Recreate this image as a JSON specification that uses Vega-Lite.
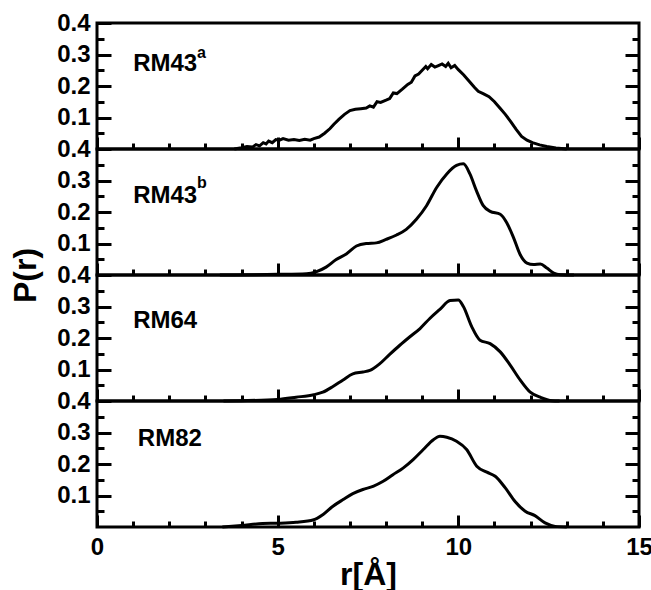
{
  "$schema": "https://vega.github.io/schema/vega-lite/v6.json",
  "padding": {"left": 8, "top": 9, "right": 5, "bottom": 5},
  "spacing": 0,
  "bounds": "flush",
  "config": {
    "view": {"stroke": "black", "strokeWidth": 3},
    "axis": {"zindex": 1, "labelFlush": false, "domain": false, "grid": false, "ticks": true, "tickColor": "black", "tickWidth": 3, "labelFont": "Liberation Sans", "labelFontWeight": "bold", "labelFontSize": 24, "labelColor": "black", "titleFont": "Liberation Sans", "titleFontWeight": "bold", "titleFontSize": 32, "titleColor": "black"}
  },
  "datasets": {
    "rm43a": [
      {"r": 3.8, "P": 0}, {"r": 4.0, "P": 0.004}, {"r": 4.15, "P": 0.008}, {"r": 4.3, "P": 0.006}, {"r": 4.4, "P": 0.014}, {"r": 4.5, "P": 0.01}, {"r": 4.6, "P": 0.02}, {"r": 4.68, "P": 0.016}, {"r": 4.75, "P": 0.025}, {"r": 4.85, "P": 0.02}, {"r": 4.95, "P": 0.03}, {"r": 5.05, "P": 0.028}, {"r": 5.15, "P": 0.033}, {"r": 5.3, "P": 0.028}, {"r": 5.45, "P": 0.03}, {"r": 5.6, "P": 0.027}, {"r": 5.75, "P": 0.031}, {"r": 5.9, "P": 0.028}, {"r": 6.0, "P": 0.033}, {"r": 6.15, "P": 0.038}, {"r": 6.3, "P": 0.05}, {"r": 6.45, "P": 0.065}, {"r": 6.55, "P": 0.078}, {"r": 6.7, "P": 0.095}, {"r": 6.85, "P": 0.11}, {"r": 7.0, "P": 0.122}, {"r": 7.15, "P": 0.126}, {"r": 7.3, "P": 0.128}, {"r": 7.45, "P": 0.13}, {"r": 7.55, "P": 0.137}, {"r": 7.65, "P": 0.133}, {"r": 7.75, "P": 0.15}, {"r": 7.85, "P": 0.148}, {"r": 8.0, "P": 0.155}, {"r": 8.1, "P": 0.16}, {"r": 8.2, "P": 0.178}, {"r": 8.3, "P": 0.176}, {"r": 8.45, "P": 0.19}, {"r": 8.6, "P": 0.205}, {"r": 8.7, "P": 0.212}, {"r": 8.8, "P": 0.232}, {"r": 8.9, "P": 0.238}, {"r": 9.0, "P": 0.25}, {"r": 9.1, "P": 0.262}, {"r": 9.15, "P": 0.255}, {"r": 9.25, "P": 0.268}, {"r": 9.35, "P": 0.26}, {"r": 9.45, "P": 0.265}, {"r": 9.55, "P": 0.27}, {"r": 9.65, "P": 0.262}, {"r": 9.72, "P": 0.272}, {"r": 9.8, "P": 0.258}, {"r": 9.9, "P": 0.265}, {"r": 10.0, "P": 0.252}, {"r": 10.15, "P": 0.235}, {"r": 10.3, "P": 0.215}, {"r": 10.45, "P": 0.195}, {"r": 10.55, "P": 0.183}, {"r": 10.7, "P": 0.175}, {"r": 10.85, "P": 0.166}, {"r": 11.0, "P": 0.15}, {"r": 11.15, "P": 0.13}, {"r": 11.3, "P": 0.11}, {"r": 11.45, "P": 0.087}, {"r": 11.6, "P": 0.062}, {"r": 11.75, "P": 0.04}, {"r": 11.9, "P": 0.028}, {"r": 12.05, "P": 0.02}, {"r": 12.25, "P": 0.013}, {"r": 12.45, "P": 0.008}, {"r": 12.7, "P": 0.003}, {"r": 13.0, "P": 0}
    ],
    "rm43b": [
      {"r": 3.4, "P": 0}, {"r": 4.4, "P": 0.001}, {"r": 5.0, "P": 0.002}, {"r": 5.8, "P": 0.004}, {"r": 6.06, "P": 0.01}, {"r": 6.34, "P": 0.025}, {"r": 6.62, "P": 0.049}, {"r": 6.9, "P": 0.067}, {"r": 7.18, "P": 0.092}, {"r": 7.45, "P": 0.1}, {"r": 7.73, "P": 0.102}, {"r": 8.0, "P": 0.113}, {"r": 8.29, "P": 0.127}, {"r": 8.56, "P": 0.145}, {"r": 8.84, "P": 0.177}, {"r": 9.12, "P": 0.22}, {"r": 9.4, "P": 0.278}, {"r": 9.68, "P": 0.321}, {"r": 9.95, "P": 0.348}, {"r": 10.14, "P": 0.353}, {"r": 10.32, "P": 0.321}, {"r": 10.5, "P": 0.268}, {"r": 10.69, "P": 0.22}, {"r": 10.88, "P": 0.202}, {"r": 11.16, "P": 0.193}, {"r": 11.34, "P": 0.166}, {"r": 11.53, "P": 0.118}, {"r": 11.71, "P": 0.065}, {"r": 11.9, "P": 0.038}, {"r": 12.08, "P": 0.033}, {"r": 12.27, "P": 0.035}, {"r": 12.45, "P": 0.022}, {"r": 12.64, "P": 0.006}, {"r": 12.82, "P": 0.001}, {"r": 13.2, "P": 0}
    ],
    "rm64": [
      {"r": 3.5, "P": 0}, {"r": 4.0, "P": 0.001}, {"r": 5.0, "P": 0.005}, {"r": 5.51, "P": 0.012}, {"r": 6.0, "P": 0.02}, {"r": 6.25, "P": 0.028}, {"r": 6.53, "P": 0.046}, {"r": 6.81, "P": 0.067}, {"r": 7.08, "P": 0.086}, {"r": 7.36, "P": 0.092}, {"r": 7.55, "P": 0.097}, {"r": 7.82, "P": 0.118}, {"r": 8.1, "P": 0.148}, {"r": 8.38, "P": 0.177}, {"r": 8.66, "P": 0.204}, {"r": 8.94, "P": 0.23}, {"r": 9.21, "P": 0.262}, {"r": 9.49, "P": 0.291}, {"r": 9.77, "P": 0.319}, {"r": 10.0, "P": 0.321}, {"r": 10.14, "P": 0.3}, {"r": 10.37, "P": 0.236}, {"r": 10.6, "P": 0.193}, {"r": 10.88, "P": 0.182}, {"r": 11.16, "P": 0.156}, {"r": 11.44, "P": 0.113}, {"r": 11.71, "P": 0.067}, {"r": 11.99, "P": 0.028}, {"r": 12.27, "P": 0.012}, {"r": 12.59, "P": 0.001}, {"r": 12.8, "P": 0}
    ],
    "rm82": [
      {"r": 3.47, "P": 0}, {"r": 4.0, "P": 0.005}, {"r": 4.58, "P": 0.011}, {"r": 5.0, "P": 0.012}, {"r": 5.51, "P": 0.015}, {"r": 6.0, "P": 0.023}, {"r": 6.25, "P": 0.039}, {"r": 6.53, "P": 0.066}, {"r": 6.81, "P": 0.087}, {"r": 7.08, "P": 0.106}, {"r": 7.36, "P": 0.119}, {"r": 7.64, "P": 0.129}, {"r": 7.92, "P": 0.145}, {"r": 8.19, "P": 0.166}, {"r": 8.47, "P": 0.187}, {"r": 8.75, "P": 0.214}, {"r": 9.03, "P": 0.246}, {"r": 9.31, "P": 0.277}, {"r": 9.49, "P": 0.288}, {"r": 9.68, "P": 0.285}, {"r": 9.95, "P": 0.272}, {"r": 10.23, "P": 0.246}, {"r": 10.51, "P": 0.193}, {"r": 10.79, "P": 0.174}, {"r": 11.02, "P": 0.161}, {"r": 11.3, "P": 0.124}, {"r": 11.57, "P": 0.081}, {"r": 11.85, "P": 0.05}, {"r": 12.12, "P": 0.036}, {"r": 12.4, "P": 0.013}, {"r": 12.68, "P": 0.002}, {"r": 13.0, "P": 0}
    ]
  },
  "vconcat": [
    {
      "width": 542, "height": 126,
      "data": {"name": "rm43a"},
      "layer": [
        {"mark": {"type": "line", "color": "black", "strokeWidth": 3},
         "encoding": {
           "x": {"field": "r", "type": "quantitative", "scale": {"domain": [0, 15], "nice": false}, "axis": {"orient": "bottom", "values": [0, 5, 10, 15], "offset": -12, "tickSize": 12, "labels": false, "title": null}},
           "y": {"field": "P", "type": "quantitative", "scale": {"domain": [0, 0.4], "nice": false}, "axis": {"orient": "left", "values": [0.1, 0.2, 0.3, 0.4], "offset": -14, "tickSize": 14, "labelPadding": 7, "title": null}}}},
        {"mark": {"type": "line", "opacity": 0},
         "encoding": {
           "x": {"field": "r", "type": "quantitative", "axis": {"orient": "bottom", "values": [1, 2, 3, 4, 6, 7, 8, 9, 11, 12, 13, 14], "offset": -6, "tickSize": 6, "labels": false, "title": null}},
           "y": {"field": "P", "type": "quantitative", "axis": {"orient": "right", "values": [0.1, 0.2, 0.3], "offset": -14, "tickSize": 14, "labels": false, "title": null}}}},
        {"mark": {"type": "line", "opacity": 0},
         "encoding": {
           "x": {"field": "r", "type": "quantitative", "axis": null},
           "y": {"field": "P", "type": "quantitative", "axis": {"orient": "left", "values": [0.05, 0.15, 0.25, 0.35], "offset": -7, "tickSize": 7, "labels": false, "title": null}}}},
        {"mark": {"type": "line", "opacity": 0},
         "encoding": {
           "x": {"field": "r", "type": "quantitative", "axis": null},
           "y": {"field": "P", "type": "quantitative", "axis": {"orient": "right", "values": [0.05, 0.15, 0.25, 0.35], "offset": -7, "tickSize": 7, "labels": false, "title": null}}}},
        {"data": {"values": [{"t": "RM43"}]},
         "mark": {"type": "text", "align": "left", "baseline": "alphabetic", "fontSize": 24, "fontWeight": "bold", "font": "Liberation Sans", "color": "black"},
         "encoding": {"x": {"datum": 1.0, "type": "quantitative", "axis": null}, "y": {"datum": 0.248, "type": "quantitative", "axis": null}, "text": {"field": "t"}}},
        {"data": {"values": [{"t": "a"}]},
         "mark": {"type": "text", "align": "left", "baseline": "alphabetic", "fontSize": 16, "fontWeight": "bold", "font": "Liberation Sans", "color": "black"},
         "encoding": {"x": {"datum": 2.77, "type": "quantitative", "axis": null}, "y": {"datum": 0.29, "type": "quantitative", "axis": null}, "text": {"field": "t"}}}
      ],
      "resolve": {"axis": {"x": "independent", "y": "independent"}}
    },
    {
      "width": 542, "height": 126,
      "data": {"name": "rm43b"},
      "layer": [
        {"mark": {"type": "line", "color": "black", "strokeWidth": 3, "interpolate": "monotone"},
         "encoding": {
           "x": {"field": "r", "type": "quantitative", "scale": {"domain": [0, 15], "nice": false}, "axis": {"orient": "bottom", "values": [0, 5, 10, 15], "offset": -12, "tickSize": 12, "labels": false, "title": null}},
           "y": {"field": "P", "type": "quantitative", "scale": {"domain": [0, 0.4], "nice": false}, "axis": {"orient": "left", "values": [0.1, 0.2, 0.3, 0.4], "offset": -14, "tickSize": 14, "labelPadding": 7, "title": "P(r)", "titlePadding": 14, "titleY": 126}}}},
        {"mark": {"type": "line", "opacity": 0},
         "encoding": {
           "x": {"field": "r", "type": "quantitative", "axis": {"orient": "bottom", "values": [1, 2, 3, 4, 6, 7, 8, 9, 11, 12, 13, 14], "offset": -6, "tickSize": 6, "labels": false, "title": null}},
           "y": {"field": "P", "type": "quantitative", "axis": {"orient": "right", "values": [0.1, 0.2, 0.3], "offset": -14, "tickSize": 14, "labels": false, "title": null}}}},
        {"mark": {"type": "line", "opacity": 0},
         "encoding": {
           "x": {"field": "r", "type": "quantitative", "axis": null},
           "y": {"field": "P", "type": "quantitative", "axis": {"orient": "left", "values": [0.05, 0.15, 0.25, 0.35], "offset": -7, "tickSize": 7, "labels": false, "title": null}}}},
        {"mark": {"type": "line", "opacity": 0},
         "encoding": {
           "x": {"field": "r", "type": "quantitative", "axis": null},
           "y": {"field": "P", "type": "quantitative", "axis": {"orient": "right", "values": [0.05, 0.15, 0.25, 0.35], "offset": -7, "tickSize": 7, "labels": false, "title": null}}}},
        {"data": {"values": [{"t": "RM43"}]},
         "mark": {"type": "text", "align": "left", "baseline": "alphabetic", "fontSize": 24, "fontWeight": "bold", "font": "Liberation Sans", "color": "black"},
         "encoding": {"x": {"datum": 1.0, "type": "quantitative", "axis": null}, "y": {"datum": 0.229, "type": "quantitative", "axis": null}, "text": {"field": "t"}}},
        {"data": {"values": [{"t": "b"}]},
         "mark": {"type": "text", "align": "left", "baseline": "alphabetic", "fontSize": 16, "fontWeight": "bold", "font": "Liberation Sans", "color": "black"},
         "encoding": {"x": {"datum": 2.77, "type": "quantitative", "axis": null}, "y": {"datum": 0.276, "type": "quantitative", "axis": null}, "text": {"field": "t"}}}
      ],
      "resolve": {"axis": {"x": "independent", "y": "independent"}}
    },
    {
      "width": 542, "height": 126,
      "data": {"name": "rm64"},
      "layer": [
        {"mark": {"type": "line", "color": "black", "strokeWidth": 3, "interpolate": "monotone"},
         "encoding": {
           "x": {"field": "r", "type": "quantitative", "scale": {"domain": [0, 15], "nice": false}, "axis": {"orient": "bottom", "values": [0, 5, 10, 15], "offset": -12, "tickSize": 12, "labels": false, "title": null}},
           "y": {"field": "P", "type": "quantitative", "scale": {"domain": [0, 0.4], "nice": false}, "axis": {"orient": "left", "values": [0.1, 0.2, 0.3, 0.4], "offset": -14, "tickSize": 14, "labelPadding": 7, "title": null}}}},
        {"mark": {"type": "line", "opacity": 0},
         "encoding": {
           "x": {"field": "r", "type": "quantitative", "axis": {"orient": "bottom", "values": [1, 2, 3, 4, 6, 7, 8, 9, 11, 12, 13, 14], "offset": -6, "tickSize": 6, "labels": false, "title": null}},
           "y": {"field": "P", "type": "quantitative", "axis": {"orient": "right", "values": [0.1, 0.2, 0.3], "offset": -14, "tickSize": 14, "labels": false, "title": null}}}},
        {"mark": {"type": "line", "opacity": 0},
         "encoding": {
           "x": {"field": "r", "type": "quantitative", "axis": null},
           "y": {"field": "P", "type": "quantitative", "axis": {"orient": "left", "values": [0.05, 0.15, 0.25, 0.35], "offset": -7, "tickSize": 7, "labels": false, "title": null}}}},
        {"mark": {"type": "line", "opacity": 0},
         "encoding": {
           "x": {"field": "r", "type": "quantitative", "axis": null},
           "y": {"field": "P", "type": "quantitative", "axis": {"orient": "right", "values": [0.05, 0.15, 0.25, 0.35], "offset": -7, "tickSize": 7, "labels": false, "title": null}}}},
        {"data": {"values": [{"t": "RM64"}]},
         "mark": {"type": "text", "align": "left", "baseline": "alphabetic", "fontSize": 24, "fontWeight": "bold", "font": "Liberation Sans", "color": "black"},
         "encoding": {"x": {"datum": 1.0, "type": "quantitative", "axis": null}, "y": {"datum": 0.232, "type": "quantitative", "axis": null}, "text": {"field": "t"}}}
      ],
      "resolve": {"axis": {"x": "independent", "y": "independent"}}
    },
    {
      "width": 542, "height": 126,
      "data": {"name": "rm82"},
      "layer": [
        {"mark": {"type": "line", "color": "black", "strokeWidth": 3, "interpolate": "monotone"},
         "encoding": {
           "x": {"field": "r", "type": "quantitative", "scale": {"domain": [0, 15], "nice": false}, "axis": {"orient": "bottom", "values": [0, 5, 10, 15], "offset": -12, "tickSize": 12, "labelPadding": 8, "title": "r[Å]", "titlePadding": 0}},
           "y": {"field": "P", "type": "quantitative", "scale": {"domain": [0, 0.4], "nice": false}, "axis": {"orient": "left", "values": [0.1, 0.2, 0.3, 0.4], "offset": -14, "tickSize": 14, "labelPadding": 7, "title": null}}}},
        {"mark": {"type": "line", "opacity": 0},
         "encoding": {
           "x": {"field": "r", "type": "quantitative", "axis": {"orient": "bottom", "values": [1, 2, 3, 4, 6, 7, 8, 9, 11, 12, 13, 14], "offset": -6, "tickSize": 6, "labels": false, "title": null}},
           "y": {"field": "P", "type": "quantitative", "axis": {"orient": "right", "values": [0.1, 0.2, 0.3], "offset": -14, "tickSize": 14, "labels": false, "title": null}}}},
        {"mark": {"type": "line", "opacity": 0},
         "encoding": {
           "x": {"field": "r", "type": "quantitative", "axis": null},
           "y": {"field": "P", "type": "quantitative", "axis": {"orient": "left", "values": [0.05, 0.15, 0.25, 0.35], "offset": -7, "tickSize": 7, "labels": false, "title": null}}}},
        {"mark": {"type": "line", "opacity": 0},
         "encoding": {
           "x": {"field": "r", "type": "quantitative", "axis": null},
           "y": {"field": "P", "type": "quantitative", "axis": {"orient": "right", "values": [0.05, 0.15, 0.25, 0.35], "offset": -7, "tickSize": 7, "labels": false, "title": null}}}},
        {"data": {"values": [{"t": "RM82"}]},
         "mark": {"type": "text", "align": "left", "baseline": "alphabetic", "fontSize": 24, "fontWeight": "bold", "font": "Liberation Sans", "color": "black"},
         "encoding": {"x": {"datum": 1.13, "type": "quantitative", "axis": null}, "y": {"datum": 0.257, "type": "quantitative", "axis": null}, "text": {"field": "t"}}}
      ],
      "resolve": {"axis": {"x": "independent", "y": "independent"}}
    }
  ]
}
